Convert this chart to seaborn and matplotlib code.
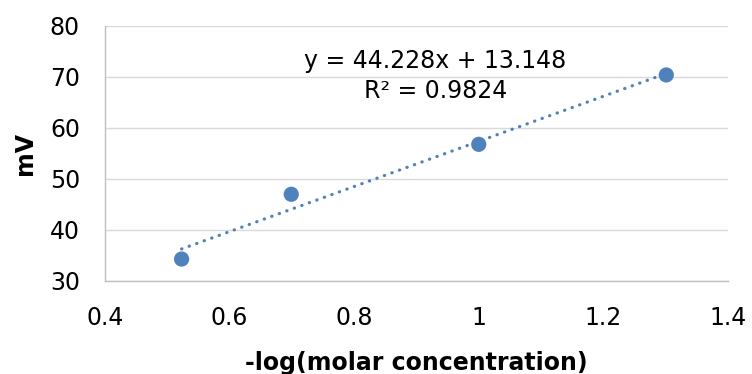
import matplotlib.pyplot as plt
import seaborn as sns
import numpy as np

# -log(molar concentration) and measured potential
neg_log_conc = [0.523, 0.699, 1.0, 1.301]
millivolts = [34.3, 47.0, 56.8, 70.4]

# trendline reported in the chart
slope = 44.228
intercept = 13.148
r_squared = 0.9824

x_ticks = [0.4, 0.6, 0.8, 1.0, 1.2, 1.4]
x_tick_labels = ['0.4', '0.6', '0.8', '1', '1.2', '1.4']
y_ticks = [30, 40, 50, 60, 70, 80]

sns.set_style('white')
plt.rcParams['font.family'] = ['DejaVu Sans']
plt.rcParams['text.color'] = 'black'
plt.rcParams['axes.labelcolor'] = 'black'
plt.rcParams['xtick.color'] = 'black'
plt.rcParams['ytick.color'] = 'black'

blue = '#4f81bd'

fig = plt.figure(figsize=(7.52, 3.74), dpi=100)
ax = fig.add_axes([0.1396, 0.2487, 0.8284, 0.6818])

sns.scatterplot(x=neg_log_conc, y=millivolts, ax=ax, color=blue, s=120,
                edgecolor='none', zorder=3)

xs = np.array([min(neg_log_conc), max(neg_log_conc)])
ax.plot(xs, slope * xs + intercept, color=blue, linewidth=2.3,
        linestyle=(0, (0.1, 2.4)), dash_capstyle='round', zorder=2)

ax.text(0.93, 70.2, f'y = {slope}x + {intercept}\nR² = {r_squared}',
        ha='center', va='center', multialignment='center',
        fontsize=17, linespacing=1.3)

ax.set_xlim(0.4, 1.4)
ax.set_ylim(30, 80)
ax.set_xticks(x_ticks)
ax.set_xticklabels(x_tick_labels)
ax.set_yticks(y_ticks)
ax.tick_params(axis='both', length=0, labelsize=17)
ax.tick_params(axis='x', pad=18)
ax.tick_params(axis='y', pad=18)
ax.yaxis.grid(True, color='#d9d9d9', linewidth=1)
ax.xaxis.grid(False)
ax.set_axisbelow(True)

for side in ['top', 'right']:
    ax.spines[side].set_visible(False)
for side in ['left', 'bottom']:
    ax.spines[side].set_color('#bfbfbf')
    ax.spines[side].set_linewidth(1)

ax.set_xlabel('-log(molar concentration)', fontsize=17, fontweight='bold', labelpad=15)
ax.set_ylabel('mV', fontsize=17, fontweight='bold', labelpad=9)

fig.savefig('out.png', dpi=100)
plt.close(fig)
